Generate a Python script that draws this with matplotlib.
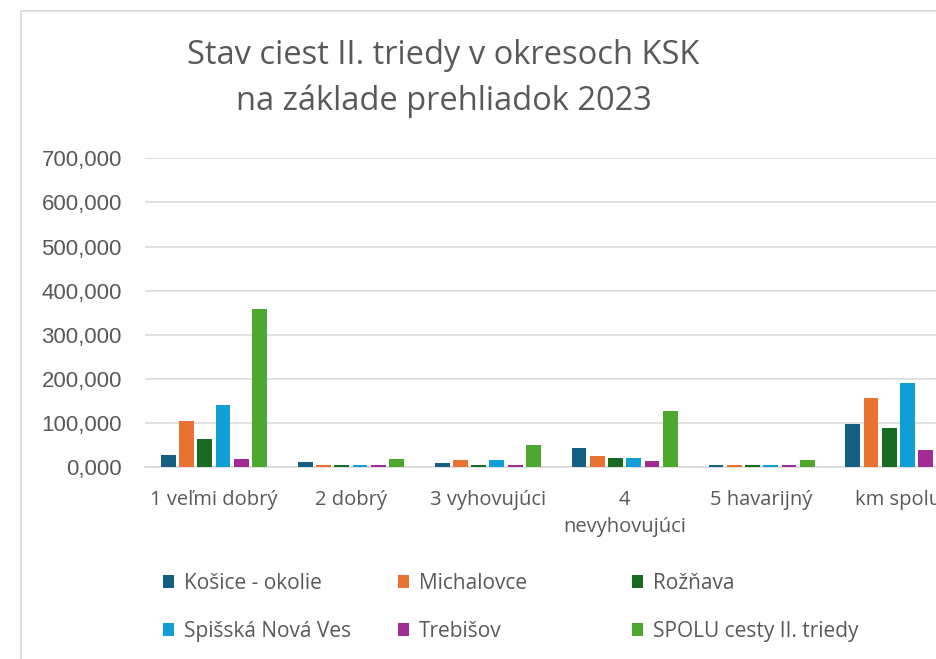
import matplotlib
matplotlib.use('Agg')
import matplotlib.pyplot as plt
import numpy as np
from matplotlib.patches import Rectangle, Patch
from matplotlib.ticker import FuncFormatter

# ---- data (km) ----
categories = ['1 veľmi dobrý', '2 dobrý', '3 vyhovujúci', '4\nnevyhovujúci', '5 havarijný', 'km spolu']
series_names = ['Košice - okolie', 'Michalovce', 'Rožňava', 'Spišská Nová Ves', 'Trebišov',
                'SPOLU cesty II. triedy']
kosice = [27, 12, 9, 43.5, 5, 98]
michalovce = [106, 5, 17, 26.5, 5, 157]
roznava = [65, 5, 5, 22, 5, 90]
spisska = [140.5, 5, 17.5, 22, 5, 191]
trebisov = [18, 5, 5, 14, 5, 38.5]
spolu = [359, 18, 51, 127.5, 17, 575]
y_ticks = [0, 100, 200, 300, 400, 500, 600, 700]

colors = ['#156082', '#E97132', '#196B24', '#0F9ED5', '#A02B93', '#4EA72E']
series = [kosice, michalovce, roznava, spisska, trebisov, spolu]

W, H = 937, 659
fig = plt.figure(figsize=(W / 100, H / 100), dpi=100)
fig.patch.set_facecolor('white')

# outer chart border (cropped at right/bottom, as in the reference)
fig.patches.append(Rectangle((21 / W, -0.1), 1.2, (H - 11) / H + 0.1, transform=fig.transFigure,
                             fill=False, edgecolor='#d9d9d9', linewidth=1.2, clip_on=False))

ax_left, ax_right = 145.5, 145.5 + 6 * 136.9
ax_bottom, ax_top = 467.3, 158.3
ax = fig.add_axes([ax_left / W, (H - ax_bottom) / H, (ax_right - ax_left) / W, (ax_bottom - ax_top) / H])
ax.set_facecolor('none')

x = np.arange(len(categories))
pitch = 0.1333
bw = 0.108
for i, (vals, c, name) in enumerate(zip(series, colors, series_names)):
    ax.bar(x + (i - 2.5) * pitch, vals, width=bw, color=c, linewidth=0, label=name, zorder=3)

ax.set_xlim(-0.5, 5.5)
ax.set_ylim(0, 700)
ax.set_yticks(y_ticks)
ax.yaxis.set_major_formatter(FuncFormatter(lambda v, p: f"{v:.3f}".replace('.', ',')))
ax.grid(axis='y', color='#d9d9d9', linewidth=1.1, zorder=0)
ax.set_axisbelow(True)
for s in ['top', 'right', 'left']:
    ax.spines[s].set_visible(False)
ax.spines['bottom'].set_color('#d9d9d9')
ax.spines['bottom'].set_linewidth(1.1)
ax.spines['bottom'].set_zorder(1)

ax.set_xticks(x)
ax.set_xticklabels(categories, family=['Open Sans', 'DejaVu Sans'], fontsize=14.5, color='#595959',
                   linespacing=1.5)
ax.tick_params(axis='x', length=0, pad=16)
ax.tick_params(axis='y', length=0, pad=17, labelsize=16, labelcolor='#595959')
for lab in ax.get_yticklabels():
    lab.set_family(['Liberation Sans', 'DejaVu Sans'])

# title
tkw = dict(ha='center', va='center', color='#595959', fontsize=23.5, family=['Open Sans', 'DejaVu Sans'])
fig.text(443 / W, (H - 56) / H, 'Stav ciest II. triedy v okresoch KSK', **tkw)
fig.text(444 / W, (H - 101) / H, 'na základe prehliadok 2023', **tkw)

# legend in three columns
col_x = [163, 398, 632]
for k in range(3):
    hs = [Patch(facecolor=colors[k]), Patch(facecolor=colors[k + 3])]
    ls = [series_names[k], series_names[k + 3]]
    lg = fig.legend(hs, ls, loc='upper left', bbox_to_anchor=(col_x[k] / W, (H - 573) / H),
                    frameon=False, borderpad=0, borderaxespad=0, handlelength=0.55, handleheight=0.55,
                    handletextpad=0.45, labelspacing=1.3,
                    prop={'family': ['Open Sans', 'DejaVu Sans'], 'size': 15})
    for t in lg.get_texts():
        t.set_color('#595959')

fig.savefig('out.png', dpi=100, facecolor='white')
